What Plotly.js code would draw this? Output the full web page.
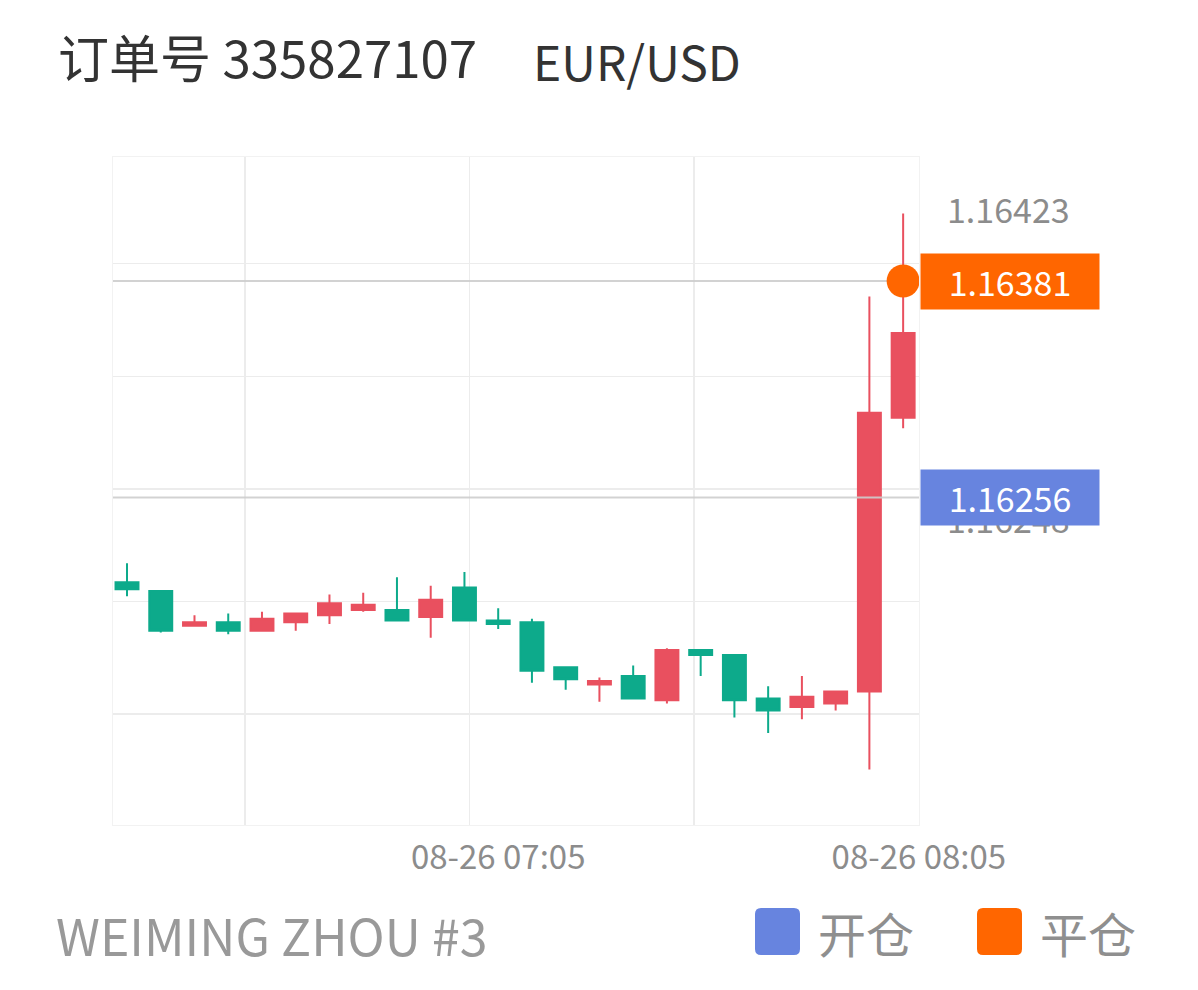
<!DOCTYPE html>
<html><head><meta charset="utf-8">
<script src="https://cdn.plot.ly/plotly-3.0.1.min.js"></script>
<style>html,body{margin:0;padding:0;background:#fff}</style>
</head><body><div id="chart" style="width:1198px;height:990px"></div>
<script>
// ---- data ----
const candleTimes = ['06:10','06:15','06:20','06:25','06:30','06:35','06:40','06:45','06:50','06:55','07:00','07:05',
                     '07:10','07:15','07:20','07:25','07:30','07:35','07:40','07:45','07:50','07:55','08:00','08:05'];
const opens  = [1.16207,1.16202,1.16182,1.16184,1.16179,1.16184,1.16188,1.16191,1.16191,1.16187,1.16204,1.16185,
                1.16184,1.16158,1.16148,1.16153,1.16139,1.16168,1.16165,1.16140,1.16135,1.16137,1.16144,1.16302];
const highs  = [1.16218,1.16202,1.16188,1.16189,1.16190,1.16189,1.16200,1.16201,1.16210,1.16205,1.16213,1.16192,
                1.16186,1.16158,1.16152,1.16159,1.16169,1.16168,1.16165,1.16147,1.16153,1.16144,1.16372,1.16420];
const lows   = [1.16199,1.16178,1.16182,1.16177,1.16179,1.16179,1.16183,1.16190,1.16185,1.16175,1.16185,1.16180,
                1.16149,1.16145,1.16138,1.16140,1.16137,1.16153,1.16129,1.16120,1.16128,1.16133,1.16099,1.16296];
const closes = [1.16203,1.16179,1.16184,1.16179,1.16186,1.16189,1.16195,1.16194,1.16185,1.16197,1.16185,1.16183,
                1.16156,1.16151,1.16150,1.16140,1.16168,1.16165,1.16139,1.16133,1.16141,1.16144,1.16305,1.16351];
const openPrice = 1.16256;   // 开仓
const closePrice = 1.16381;  // 平仓
const closeIndex = 23;
const axisPriceLabels = ['1.16423','1.16248'];
const xTickLabels = ['08-26 07:05','08-26 08:05'];
const titleText = '订单号 335827107';
const symbolText = 'EUR/USD';
const accountText = 'WEIMING ZHOU #3';
const legendLabels = ['开仓','平仓'];

// ---- style ----
const FONT = '"Noto Sans CJK SC", "Noto Sans", sans-serif';
const RED = '#E9505F', GREEN = '#0DAA8B', BLUE = '#6784DF', ORANGE = '#FF6600';
const GRID = '#ececec';
const LINE = 'rgba(205,205,205,0.9)';
const L = 113, R = 919, T = 157, B = 825, W = 1198, H = 990;
const px2x = p => (p - L) / (R - L);
const px2y = p => (B - p) / (B - T);
const yRange = [1.160669, 1.164526];
const xRange = [-0.415, 23.47];
const xIdx = candleTimes.map((_, i) => i);

function roundRect(x0, y0, x1, y1, r) {
  const a = px2x(x0), b = px2x(x1), c = px2y(y0), d = px2y(y1);
  const rx = r / (R - L), ry = r / (B - T);
  return `M${a+rx},${c} L${b-rx},${c} Q${b},${c} ${b},${c-ry} L${b},${d+ry} Q${b},${d} ${b-rx},${d} ` +
         `L${a+rx},${d} Q${a},${d} ${a},${d+ry} L${a},${c-ry} Q${a},${c} ${a+rx},${c} Z`;
}

const traces = [
  {
    type: 'candlestick', x: xIdx, open: opens, high: highs, low: lows, close: closes,
    text: candleTimes, hoverinfo: 'x+y',
    increasing: {line: {color: RED, width: 2}, fillcolor: RED},
    decreasing: {line: {color: GREEN, width: 2}, fillcolor: GREEN},
    whiskerwidth: 0, showlegend: false
  },
  {
    type: 'scatter', mode: 'lines', x: xRange, y: [openPrice, openPrice],
    line: {color: LINE, width: 2}, showlegend: false, hoverinfo: 'skip'
  },
  {
    type: 'scatter', mode: 'lines', x: xRange, y: [closePrice, closePrice],
    line: {color: LINE, width: 2}, showlegend: false, hoverinfo: 'skip'
  },
  {
    type: 'scatter', mode: 'markers', x: [closeIndex], y: [closePrice],
    marker: {size: 33, color: ORANGE}, cliponaxis: false, showlegend: false, hoverinfo: 'y'
  },
  // carrier trace so the label-only x axis (x2) is drawn
  {
    type: 'scatter', mode: 'markers', x: [null], y: [null], xaxis: 'x2', yaxis: 'y',
    showlegend: false, hoverinfo: 'skip'
  }
];

const priceLabelFont = {family: FONT, size: 34, color: '#8c8c8c'};
const boxFont = {family: FONT, size: 34, color: '#fff'};

const layout = {
  width: W, height: H,
  margin: {l: L, r: W - R, t: T, b: H - B, pad: 0},
  paper_bgcolor: '#fff', plot_bgcolor: '#fff',
  font: {family: FONT, color: '#8c8c8c'},
  showlegend: false, hovermode: false, dragmode: false,
  boxgap: 0.32, boxgroupgap: 0,
  title: {text: titleText, font: {family: FONT, size: 51, color: '#333'},
          x: 58 / W, xanchor: 'left', xref: 'container', y: 1 - 60 / H, yanchor: 'middle', yref: 'container'},
  xaxis: {
    range: xRange, type: 'linear', rangeslider: {visible: false},
    tickmode: 'array', tickvals: [3.5, 10.15, 16.8], showticklabels: false, ticks: '',
    showgrid: true, gridcolor: GRID, gridwidth: 1.5, zeroline: false,
    showline: true, mirror: true, linecolor: '#f2f2f2', linewidth: 1, fixedrange: true
  },
  xaxis2: {
    overlaying: 'x', anchor: 'y', side: 'bottom', range: xRange, type: 'linear',
    tickmode: 'array', tickvals: [11, 23.465], ticktext: xTickLabels, ticks: '',
    showgrid: false, zeroline: false, showline: false, ticklabelstandoff: 10,
    tickfont: {family: FONT, size: 33, color: '#8c8c8c'}, fixedrange: true
  },
  yaxis: {
    range: yRange, tickmode: 'array', tickvals: [1.16131, 1.16196, 1.16261, 1.16326, 1.16391],
    showticklabels: false, ticks: '', showgrid: true, gridcolor: GRID, gridwidth: 1.5, zeroline: false,
    showline: true, mirror: true, linecolor: '#f2f2f2', linewidth: 1, fixedrange: true
  },
  shapes: [
    {type: 'path', xref: 'paper', yref: 'paper', path: roundRect(755, 908, 800, 955, 6),
     fillcolor: BLUE, line: {width: 0}},
    {type: 'path', xref: 'paper', yref: 'paper', path: roundRect(977, 908, 1022, 955, 6),
     fillcolor: ORANGE, line: {width: 0}}
  ],
  annotations: [
    {xref: 'paper', yref: 'paper', x: px2x(531), y: px2y(60), xanchor: 'left', yanchor: 'middle',
     text: symbolText, showarrow: false, font: {family: FONT, size: 48, color: '#333'}},
    // price-scale labels (the lower one sits partly under the 开仓 tag, as in the reference)
    {xref: 'paper', yref: 'y', x: px2x(1008), y: Number(axisPriceLabels[0]), xanchor: 'center', yanchor: 'middle',
     text: axisPriceLabels[0], showarrow: false, font: priceLabelFont},
    {xref: 'paper', yref: 'y', x: px2x(1008), y: Number(axisPriceLabels[1]), xanchor: 'center', yanchor: 'middle',
     yshift: -7, text: axisPriceLabels[1], showarrow: false, font: priceLabelFont},
    {xref: 'paper', yref: 'y', x: 1, y: closePrice, xanchor: 'left', yanchor: 'middle', xshift: 1,
     text: closePrice.toFixed(5), showarrow: false, bgcolor: ORANGE, width: 178, height: 55, borderpad: 0,
     align: 'center', valign: 'middle', font: boxFont},
    {xref: 'paper', yref: 'y', x: 1, y: openPrice, xanchor: 'left', yanchor: 'middle', xshift: 1,
     text: openPrice.toFixed(5), showarrow: false, bgcolor: BLUE, width: 178, height: 55, borderpad: 0,
     align: 'center', valign: 'middle', font: boxFont},
    {xref: 'paper', yref: 'paper', x: px2x(54), y: px2y(934), xanchor: 'left', yanchor: 'middle',
     text: accountText, showarrow: false, font: {family: FONT, size: 50, color: '#999'}},
    {xref: 'paper', yref: 'paper', x: px2x(816), y: px2y(932), xanchor: 'left', yanchor: 'middle',
     text: legendLabels[0], showarrow: false, font: {family: FONT, size: 48, color: '#8f8f8f'}},
    {xref: 'paper', yref: 'paper', x: px2x(1038), y: px2y(932), xanchor: 'left', yanchor: 'middle',
     text: legendLabels[1], showarrow: false, font: {family: FONT, size: 48, color: '#8f8f8f'}}
  ]
};

Plotly.newPlot('chart', traces, layout, {staticPlot: true, displayModeBar: false});
</script></body></html>
